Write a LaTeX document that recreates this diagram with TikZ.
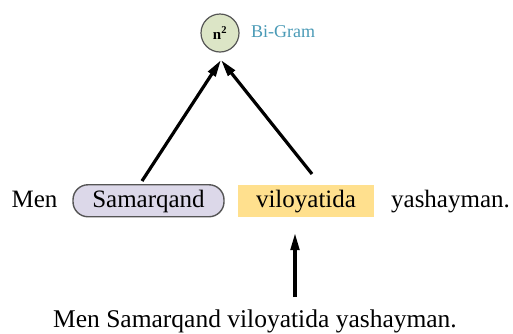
\documentclass[tikz,border=0pt]{standalone}
\usepackage{fontspec}
\setmainfont{Liberation Serif}
\usetikzlibrary{arrows.meta}
\definecolor{circfill}{HTML}{DCE5C6}
\definecolor{lavfill}{HTML}{DCD8E9}
\definecolor{goldfill}{HTML}{FFE08E}
\definecolor{tealtxt}{HTML}{4A9AB6}
\definecolor{edgegray}{HTML}{555555}
\tikzset{
  word/.style={font=\fontsize{25}{30}\selectfont, inner sep=0pt, anchor=base},
  pill/.style={word, draw=edgegray, line width=1.4pt, fill=lavfill, rounded corners=15pt,
    minimum width=151pt, text height=17.5pt, text depth=5pt, inner ysep=4.75pt, inner xsep=0pt},
  goldbox/.style={word, fill=goldfill, minimum width=136pt, text height=17.5pt, text depth=5pt, inner ysep=4.75pt, inner xsep=0pt},
  gramcirc/.style={circle, draw=edgegray, line width=1.2pt, fill=circfill, minimum size=38pt, inner sep=0pt,
    font=\fontsize{15}{18}\selectfont\bfseries},
  arr/.style={line width=3.2pt, -{Triangle[length=17pt,width=8.5pt]}, shorten >=0pt}
}
\begin{document}
\begin{tikzpicture}[x=1pt,y=-1pt]
\useasboundingbox (0,0) rectangle (513,333);
\node[gramcirc] (n2) at (220,33) {n\textsuperscript{2}};
\node[font=\fontsize{18}{22}\selectfont, text=tealtxt, anchor=base west, inner sep=0pt] (bigram) at (251,37) {Bi-Gram};
\node[word] (men) at (34.5,207) {Men};
\node[pill] (sam) at (148.5,207) {Samarqand};
\node[goldbox] (vil) at (306,207) {viloyatida};
\node[word] (yash) at (450.5,207) {yashayman.};
\node[font=\fontsize{25.5}{30}\selectfont, inner sep=0pt, anchor=base] (sent) at (255,327) {Men Samarqand viloyatida yashayman.};
\coordinate (apex) at (221,60);
\coordinate (lstart) at (142,181);
\coordinate (rstart) at (312,174);
\coordinate (vstart) at (295,297);
\coordinate (vend) at (295,233);
\draw[arr] (lstart) -- (apex);
\draw[arr] (rstart) -- (apex);
\draw[arr] (vstart) -- (vend);
\end{tikzpicture}
\end{document}
